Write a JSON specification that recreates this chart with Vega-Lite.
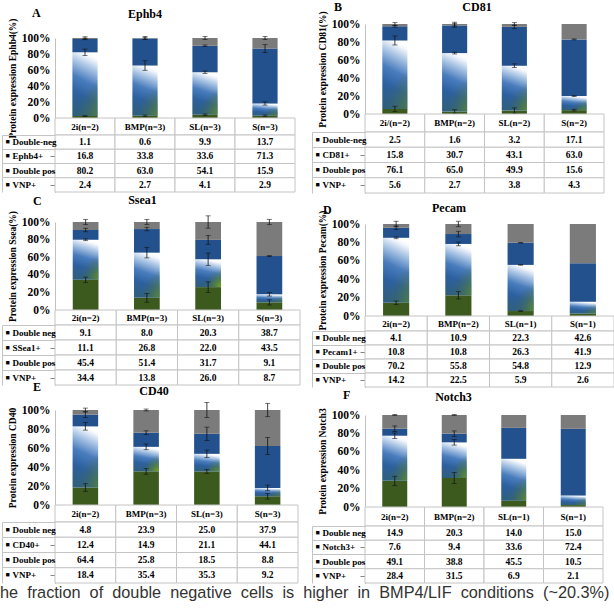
{
  "$schema": "https://vega.github.io/schema/vega-lite/v6.json",
  "padding": {"left": 0, "top": 0, "right": 0, "bottom": 0},
  "data": {"values": [
    {"p":"A","c":"2i(n=2)","k":"Double-neg","o":4,"v":1.1,"e":0.015},
    {"p":"A","c":"2i(n=2)","k":"Ephb4+","o":3,"v":16.8,"e":0.01},
    {"p":"A","c":"2i(n=2)","k":"Double pos","o":2,"v":80.2,"e":0.04},
    {"p":"A","c":"2i(n=2)","k":"VNP+","o":1,"v":2.4,"e":0.005},
    {"p":"A","c":"BMP(n=3)","k":"Double-neg","o":4,"v":0.6,"e":0.02},
    {"p":"A","c":"BMP(n=3)","k":"Ephb4+","o":3,"v":33.8,"e":0.01},
    {"p":"A","c":"BMP(n=3)","k":"Double pos","o":2,"v":63.0,"e":0.06},
    {"p":"A","c":"BMP(n=3)","k":"VNP+","o":1,"v":2.7,"e":0.01},
    {"p":"A","c":"SL(n=3)","k":"Double-neg","o":4,"v":9.9,"e":0.02},
    {"p":"A","c":"SL(n=3)","k":"Ephb4+","o":3,"v":33.6,"e":0.01},
    {"p":"A","c":"SL(n=3)","k":"Double pos","o":2,"v":54.1,"e":0.015},
    {"p":"A","c":"SL(n=3)","k":"VNP+","o":1,"v":4.1,"e":0.01},
    {"p":"A","c":"S(n=3)","k":"Double-neg","o":4,"v":13.7,"e":0.02},
    {"p":"A","c":"S(n=3)","k":"Ephb4+","o":3,"v":71.3,"e":0.05},
    {"p":"A","c":"S(n=3)","k":"Double pos","o":2,"v":15.9,"e":0.02},
    {"p":"A","c":"S(n=3)","k":"VNP+","o":1,"v":2.9,"e":0.01},

    {"p":"B","c":"2i/(n=2)","k":"Double-neg","o":4,"v":2.5,"e":0.015},
    {"p":"B","c":"2i/(n=2)","k":"CD81+","o":3,"v":15.8,"e":0.01},
    {"p":"B","c":"2i/(n=2)","k":"Double pos","o":2,"v":76.1,"e":0.05},
    {"p":"B","c":"2i/(n=2)","k":"VNP+","o":1,"v":5.6,"e":0.03},
    {"p":"B","c":"BMP(n=2)","k":"Double-neg","o":4,"v":1.6,"e":0.02},
    {"p":"B","c":"BMP(n=2)","k":"CD81+","o":3,"v":30.7,"e":0.02},
    {"p":"B","c":"BMP(n=2)","k":"Double pos","o":2,"v":65.0,"e":0.01},
    {"p":"B","c":"BMP(n=2)","k":"VNP+","o":1,"v":2.7,"e":0.02},
    {"p":"B","c":"SL(n=2)","k":"Double-neg","o":4,"v":3.2,"e":0.015},
    {"p":"B","c":"SL(n=2)","k":"CD81+","o":3,"v":43.1,"e":0.02},
    {"p":"B","c":"SL(n=2)","k":"Double pos","o":2,"v":49.9,"e":0.02},
    {"p":"B","c":"SL(n=2)","k":"VNP+","o":1,"v":3.8,"e":0.03},
    {"p":"B","c":"S(n=2)","k":"Double-neg","o":4,"v":17.1,"e":0},
    {"p":"B","c":"S(n=2)","k":"CD81+","o":3,"v":63.0,"e":0.005},
    {"p":"B","c":"S(n=2)","k":"Double pos","o":2,"v":15.6,"e":0.005},
    {"p":"B","c":"S(n=2)","k":"VNP+","o":1,"v":4.3,"e":0.01},

    {"p":"C","c":"2i(n=2)","k":"Double neg","o":4,"v":9.1,"e":0.03},
    {"p":"C","c":"2i(n=2)","k":"SSea1+","o":3,"v":11.1,"e":0.02},
    {"p":"C","c":"2i(n=2)","k":"Double pos","o":2,"v":45.4,"e":0.01},
    {"p":"C","c":"2i(n=2)","k":"VNP+","o":1,"v":34.4,"e":0.03},
    {"p":"C","c":"BMP(n=3)","k":"Double neg","o":4,"v":8.0,"e":0.03},
    {"p":"C","c":"BMP(n=3)","k":"SSea1+","o":3,"v":26.8,"e":0.02},
    {"p":"C","c":"BMP(n=3)","k":"Double pos","o":2,"v":51.4,"e":0.06},
    {"p":"C","c":"BMP(n=3)","k":"VNP+","o":1,"v":13.8,"e":0.05},
    {"p":"C","c":"SL(n=3)","k":"Double neg","o":4,"v":20.3,"e":0.07},
    {"p":"C","c":"SL(n=3)","k":"SSea1+","o":3,"v":22.0,"e":0.05},
    {"p":"C","c":"SL(n=3)","k":"Double pos","o":2,"v":31.7,"e":0.07},
    {"p":"C","c":"SL(n=3)","k":"VNP+","o":1,"v":26.0,"e":0.06},
    {"p":"C","c":"S(n=3)","k":"Double neg","o":4,"v":38.7,"e":0.03},
    {"p":"C","c":"S(n=3)","k":"SSea1+","o":3,"v":43.5,"e":0.005},
    {"p":"C","c":"S(n=3)","k":"Double pos","o":2,"v":9.1,"e":0.02},
    {"p":"C","c":"S(n=3)","k":"VNP+","o":1,"v":8.7,"e":0.03},

    {"p":"D","c":"2i(n=2)","k":"Double neg","o":4,"v":4.1,"e":0.03},
    {"p":"D","c":"2i(n=2)","k":"Pecam1+","o":3,"v":10.8,"e":0.02},
    {"p":"D","c":"2i(n=2)","k":"Double pos","o":2,"v":70.2,"e":0.01},
    {"p":"D","c":"2i(n=2)","k":"VNP+","o":1,"v":14.2,"e":0.02},
    {"p":"D","c":"BMP(n=2)","k":"Double neg","o":4,"v":10.9,"e":0.03},
    {"p":"D","c":"BMP(n=2)","k":"Pecam1+","o":3,"v":10.8,"e":0.03},
    {"p":"D","c":"BMP(n=2)","k":"Double pos","o":2,"v":55.8,"e":0.02},
    {"p":"D","c":"BMP(n=2)","k":"VNP+","o":1,"v":22.5,"e":0.04},
    {"p":"D","c":"SL(n=1)","k":"Double neg","o":4,"v":22.3,"e":0},
    {"p":"D","c":"SL(n=1)","k":"Pecam1+","o":3,"v":26.3,"e":0.003},
    {"p":"D","c":"SL(n=1)","k":"Double pos","o":2,"v":54.8,"e":0.003},
    {"p":"D","c":"SL(n=1)","k":"VNP+","o":1,"v":5.9,"e":0.003},
    {"p":"D","c":"S(n=1)","k":"Double neg","o":4,"v":42.6,"e":0},
    {"p":"D","c":"S(n=1)","k":"Pecam1+","o":3,"v":41.9,"e":0},
    {"p":"D","c":"S(n=1)","k":"Double pos","o":2,"v":12.9,"e":0},
    {"p":"D","c":"S(n=1)","k":"VNP+","o":1,"v":2.6,"e":0},

    {"p":"E","c":"2i(n=2)","k":"Double neg","o":4,"v":4.8,"e":0.02},
    {"p":"E","c":"2i(n=2)","k":"CD40+","o":3,"v":12.4,"e":0.03},
    {"p":"E","c":"2i(n=2)","k":"Double pos","o":2,"v":64.4,"e":0.04},
    {"p":"E","c":"2i(n=2)","k":"VNP+","o":1,"v":18.4,"e":0.04},
    {"p":"E","c":"BMP(n=3)","k":"Double neg","o":4,"v":23.9,"e":0.01},
    {"p":"E","c":"BMP(n=3)","k":"CD40+","o":3,"v":14.9,"e":0.02},
    {"p":"E","c":"BMP(n=3)","k":"Double pos","o":2,"v":25.8,"e":0.03},
    {"p":"E","c":"BMP(n=3)","k":"VNP+","o":1,"v":35.4,"e":0.03},
    {"p":"E","c":"SL(n=3)","k":"Double neg","o":4,"v":25.0,"e":0.08},
    {"p":"E","c":"SL(n=3)","k":"CD40+","o":3,"v":21.1,"e":0.07},
    {"p":"E","c":"SL(n=3)","k":"Double pos","o":2,"v":18.5,"e":0.04},
    {"p":"E","c":"SL(n=3)","k":"VNP+","o":1,"v":35.3,"e":0.02},
    {"p":"E","c":"S(n=3)","k":"Double neg","o":4,"v":37.9,"e":0.07},
    {"p":"E","c":"S(n=3)","k":"CD40+","o":3,"v":44.1,"e":0.09},
    {"p":"E","c":"S(n=3)","k":"Double pos","o":2,"v":8.8,"e":0.03},
    {"p":"E","c":"S(n=3)","k":"VNP+","o":1,"v":9.2,"e":0.03},

    {"p":"F","c":"2i(n=2)","k":"Double neg","o":4,"v":14.9,"e":0.005},
    {"p":"F","c":"2i(n=2)","k":"Notch3+","o":3,"v":7.6,"e":0.03},
    {"p":"F","c":"2i(n=2)","k":"Double pos","o":2,"v":49.1,"e":0.03},
    {"p":"F","c":"2i(n=2)","k":"VNP+","o":1,"v":28.4,"e":0.05},
    {"p":"F","c":"BMP(n=2)","k":"Double neg","o":4,"v":20.3,"e":0.005},
    {"p":"F","c":"BMP(n=2)","k":"Notch3+","o":3,"v":9.4,"e":0.03},
    {"p":"F","c":"BMP(n=2)","k":"Double pos","o":2,"v":38.8,"e":0.03},
    {"p":"F","c":"BMP(n=2)","k":"VNP+","o":1,"v":31.5,"e":0.06},
    {"p":"F","c":"SL(n=1)","k":"Double neg","o":4,"v":14.0,"e":0},
    {"p":"F","c":"SL(n=1)","k":"Notch3+","o":3,"v":33.6,"e":0},
    {"p":"F","c":"SL(n=1)","k":"Double pos","o":2,"v":45.5,"e":0},
    {"p":"F","c":"SL(n=1)","k":"VNP+","o":1,"v":6.9,"e":0},
    {"p":"F","c":"S(n=1)","k":"Double neg","o":4,"v":15.0,"e":0},
    {"p":"F","c":"S(n=1)","k":"Notch3+","o":3,"v":72.4,"e":0},
    {"p":"F","c":"S(n=1)","k":"Double pos","o":2,"v":10.5,"e":0},
    {"p":"F","c":"S(n=1)","k":"VNP+","o":1,"v":2.1,"e":0}
  ]},
  "title": {
    "text": "he \u00a0fraction \u00a0of \u00a0double \u00a0negative \u00a0cells \u00a0is \u00a0higher \u00a0in \u00a0BMP4/LIF \u00a0conditions \u00a0(~20.3%)",
    "orient": "bottom", "anchor": "start", "dx": -55, "offset": 14.5,
    "font": "Liberation Sans", "fontWeight": "normal", "fontSize": 16.3, "color": "#333333", "baseline": "alphabetic"
  },
  "spacing": 10,
  "hconcat": [
    {
      "spacing": 0,
      "vconcat": [
        {
          "spacing": 0, "bounds": "flush",
          "vconcat": [
            {
              "width": 240, "height": 94,
              "transform": [
                {"filter": "datum.p == 'A'"},
                {"stack": "v", "groupby": ["c"], "sort": [{"field": "o", "order": "ascending"}], "offset": "normalize", "as": ["y0", "y1"]}
              ],
              "encoding": {
                "x": {"field": "c", "type": "nominal", "sort": null, "axis": null, "scale": {"paddingInner": 0.58, "paddingOuter": 0.29}},
                "y": {"field": "y1", "type": "quantitative", "scale": {"domain": [0, 1], "nice": false, "range": [94, 14]},
                      "axis": {"title": "Protein expression Ephb4(%)", "format": ".0%", "values": [0, 0.2, 0.4, 0.6, 0.8, 1]}}
              },
              "layer": [
                {"transform": [{"filter": "datum.o == 1"}], "mark": {"type": "bar", "color": "#3d5a1e"}, "encoding": {"y2": {"field": "y0"}}},
                {"transform": [{"filter": "datum.o == 2"}], "mark": {"type": "bar", "color": {"gradient": "linear", "x1": 0.6, "y1": 0, "x2": 0.4, "y2": 1, "stops": [{"offset": 0, "color": "#ffffff"}, {"offset": 0.06, "color": "#f4f7fb"}, {"offset": 0.22, "color": "#a9c4e4"}, {"offset": 0.45, "color": "#4a7dbd"}, {"offset": 0.7, "color": "#2d609f"}, {"offset": 1, "color": "#2f5f80"}]}}, "encoding": {"y2": {"field": "y0"}}},
                {"transform": [{"filter": "datum.o == 2"}], "mark": {"type": "bar", "color": {"gradient": "radial", "x1": 1, "y1": 1, "r1": 0, "x2": 1, "y2": 1, "r2": 0.65, "stops": [{"offset": 0, "color": "rgba(125,170,25,1)"}, {"offset": 0.45, "color": "rgba(90,135,45,0.7)"}, {"offset": 1, "color": "rgba(60,100,80,0)"}]}}, "encoding": {"y2": {"field": "y0"}}},
                {"transform": [{"filter": "datum.o == 3"}], "mark": {"type": "bar", "color": "#23518e"}, "encoding": {"y2": {"field": "y0"}}},
                {"transform": [{"filter": "datum.o == 4"}], "mark": {"type": "bar", "color": "#7b7b7b"}, "encoding": {"y2": {"field": "y0"}}},
                {"transform": [{"filter": "datum.e > 0"}], "mark": {"type": "errorbar", "ticks": true, "size": 5, "thickness": 0.8, "color": "#111111"}, "encoding": {"yError": {"field": "e"}}}
              ]
            },
            {
              "width": 240, "height": 17,
              "title": {"text": "A", "anchor": "start", "dx": -23, "offset": 97.3},
              "transform": [{"filter": "datum.p == 'A' && datum.o == 1"}],
              "encoding": {"x": {"field": "c", "type": "nominal", "sort": null, "axis": null, "scale": {"paddingInner": 0, "paddingOuter": 0}}},
              "layer": [
                {"mark": {"type": "rect", "fill": "#ffffff", "stroke": "#c4c4c4", "strokeWidth": 1}, "encoding": {}},
                {"mark": {"type": "text", "fontSize": 9}, "encoding": {"text": {"field": "c"}}}
              ]
            },
            {
              "width": 240, "height": 57,
              "title": {"text": "Ephb4", "anchor": "middle", "dx": -30, "offset": 113.3},
              "transform": [{"filter": "datum.p == 'A'"}],
              "encoding": {"x": {"field": "c", "type": "nominal", "sort": null, "axis": null, "scale": {"paddingInner": 0, "paddingOuter": 0}}},
              "layer": [
                {"mark": {"type": "rect", "fill": "#ffffff", "stroke": "#c4c4c4", "strokeWidth": 1},
                 "encoding": {"y": {"field": "k", "type": "nominal", "title": null, "sort": {"field": "o", "op": "max", "order": "descending"}, "scale": {"paddingInner": 0, "paddingOuter": 0},
                   "axis": {"orient": "left", "bandPosition": 0, "labelPadding": -10}}}},
                {"mark": {"type": "text"},
                 "encoding": {"y": {"field": "k", "type": "nominal", "title": null, "sort": {"field": "o", "op": "max", "order": "descending"}, "scale": {"paddingInner": 0, "paddingOuter": 0},
                   "axis": {"orient": "left", "bandPosition": 1, "labels": false}},
                   "text": {"field": "v", "format": ".1f"}}},
                {"mark": {"type": "rect", "opacity": 0},
                 "encoding": {"y": {"field": "k", "type": "nominal", "title": null, "sort": {"field": "o", "op": "max", "order": "descending"}, "scale": {"paddingInner": 0, "paddingOuter": 0},
                   "axis": {"orient": "left", "offset": 53, "domain": true, "tickSize": 0, "labelPadding": -3, "labelExpr": "'■'", "labelFontSize": 7,
                     "encode": {"labels": {"update": {"fill": {"signal": "indexof(datum.value,'VNP') >= 0 ? '#4f6228' : indexof(datum.value,'Double pos') >= 0 ? '#6c9fd4' : indexof(datum.value,'Double') >= 0 ? '#8c8c8c' : '#2b569a'"}}}}}}}}
              ],
              "resolve": {"scale": {"y": "independent"}, "axis": {"y": "independent"}}
            }
          ]
        },
        {
          "spacing": -5,
          "vconcat": [
            {
              "spacing": 0, "bounds": "flush",
              "vconcat": [
                {
                  "width": 245, "height": 88,
                  "transform": [
                    {"filter": "datum.p == 'C'"},
                    {"stack": "v", "groupby": ["c"], "sort": [{"field": "o", "order": "ascending"}], "offset": "normalize", "as": ["y0", "y1"]}
                  ],
                  "encoding": {
                    "x": {"field": "c", "type": "nominal", "sort": null, "axis": null, "scale": {"paddingInner": 0.58, "paddingOuter": 0.29}},
                    "y": {"field": "y1", "type": "quantitative", "scale": {"domain": [0, 1], "nice": false},
                          "axis": {"title": "Protein expression Ssea(%)", "format": ".0%", "values": [0, 0.2, 0.4, 0.6, 0.8, 1]}}
                  },
                  "layer": [
                    {"transform": [{"filter": "datum.o == 1"}], "mark": {"type": "bar", "color": "#3d5a1e"}, "encoding": {"y2": {"field": "y0"}}},
                    {"transform": [{"filter": "datum.o == 2"}], "mark": {"type": "bar", "color": {"gradient": "linear", "x1": 0.6, "y1": 0, "x2": 0.4, "y2": 1, "stops": [{"offset": 0, "color": "#ffffff"}, {"offset": 0.06, "color": "#f4f7fb"}, {"offset": 0.22, "color": "#a9c4e4"}, {"offset": 0.45, "color": "#4a7dbd"}, {"offset": 0.7, "color": "#2d609f"}, {"offset": 1, "color": "#2f5f80"}]}}, "encoding": {"y2": {"field": "y0"}}},
                    {"transform": [{"filter": "datum.o == 2"}], "mark": {"type": "bar", "color": {"gradient": "radial", "x1": 1, "y1": 1, "r1": 0, "x2": 1, "y2": 1, "r2": 0.65, "stops": [{"offset": 0, "color": "rgba(125,170,25,1)"}, {"offset": 0.45, "color": "rgba(90,135,45,0.7)"}, {"offset": 1, "color": "rgba(60,100,80,0)"}]}}, "encoding": {"y2": {"field": "y0"}}},
                    {"transform": [{"filter": "datum.o == 3"}], "mark": {"type": "bar", "color": "#23518e"}, "encoding": {"y2": {"field": "y0"}}},
                    {"transform": [{"filter": "datum.o == 4"}], "mark": {"type": "bar", "color": "#7b7b7b"}, "encoding": {"y2": {"field": "y0"}}},
                    {"transform": [{"filter": "datum.e > 0"}], "mark": {"type": "errorbar", "ticks": true, "size": 5, "thickness": 0.8, "color": "#111111"}, "encoding": {"yError": {"field": "e"}}}
                  ]
                },
                {
                  "width": 245, "height": 15,
                  "title": {"text": "C", "anchor": "start", "dx": -22, "offset": 101.3},
                  "transform": [{"filter": "datum.p == 'C' && datum.o == 1"}],
                  "encoding": {"x": {"field": "c", "type": "nominal", "sort": null, "axis": null, "scale": {"paddingInner": 0, "paddingOuter": 0}}},
                  "layer": [
                    {"mark": {"type": "rect", "fill": "#ffffff", "stroke": "#c4c4c4", "strokeWidth": 1}, "encoding": {}},
                    {"mark": {"type": "text", "fontSize": 9}, "encoding": {"text": {"field": "c"}}}
                  ]
                },
                {
                  "width": 245, "height": 60,
                  "title": {"text": "Ssea1", "anchor": "middle", "dx": -35, "offset": 118},
                  "transform": [{"filter": "datum.p == 'C'"}],
                  "encoding": {"x": {"field": "c", "type": "nominal", "sort": null, "axis": null, "scale": {"paddingInner": 0, "paddingOuter": 0}}},
                  "layer": [
                    {"mark": {"type": "rect", "fill": "#ffffff", "stroke": "#c4c4c4", "strokeWidth": 1},
                     "encoding": {"y": {"field": "k", "type": "nominal", "title": null, "sort": {"field": "o", "op": "max", "order": "descending"}, "scale": {"paddingInner": 0, "paddingOuter": 0},
                       "axis": {"orient": "left", "bandPosition": 0, "labelPadding": -10}}}},
                    {"mark": {"type": "text"},
                     "encoding": {"y": {"field": "k", "type": "nominal", "title": null, "sort": {"field": "o", "op": "max", "order": "descending"}, "scale": {"paddingInner": 0, "paddingOuter": 0},
                       "axis": {"orient": "left", "bandPosition": 1, "labels": false}},
                       "text": {"field": "v", "format": ".1f"}}},
                    {"mark": {"type": "rect", "opacity": 0},
                     "encoding": {"y": {"field": "k", "type": "nominal", "title": null, "sort": {"field": "o", "op": "max", "order": "descending"}, "scale": {"paddingInner": 0, "paddingOuter": 0},
                       "axis": {"orient": "left", "offset": 53, "domain": true, "tickSize": 0, "labelPadding": -3, "labelExpr": "'■'", "labelFontSize": 7,
                         "encode": {"labels": {"update": {"fill": {"signal": "indexof(datum.value,'VNP') >= 0 ? '#4f6228' : indexof(datum.value,'Double pos') >= 0 ? '#6c9fd4' : indexof(datum.value,'Double') >= 0 ? '#8c8c8c' : '#2b569a'"}}}}}}}}
                  ],
                  "resolve": {"scale": {"y": "independent"}, "axis": {"y": "independent"}}
                }
              ]
            },
            {
              "spacing": 0, "bounds": "flush",
              "vconcat": [
                {
                  "width": 243, "height": 95,
                  "transform": [
                    {"filter": "datum.p == 'E'"},
                    {"stack": "v", "groupby": ["c"], "sort": [{"field": "o", "order": "ascending"}], "offset": "normalize", "as": ["y0", "y1"]}
                  ],
                  "encoding": {
                    "x": {"field": "c", "type": "nominal", "sort": null, "axis": null, "scale": {"paddingInner": 0.58, "paddingOuter": 0.29}},
                    "y": {"field": "y1", "type": "quantitative", "scale": {"domain": [0, 1], "nice": false},
                          "axis": {"title": "Protein expression CD40", "format": ".0%", "values": [0, 0.2, 0.4, 0.6, 0.8, 1]}}
                  },
                  "layer": [
                    {"transform": [{"filter": "datum.o == 1"}], "mark": {"type": "bar", "color": "#3d5a1e"}, "encoding": {"y2": {"field": "y0"}}},
                    {"transform": [{"filter": "datum.o == 2"}], "mark": {"type": "bar", "color": {"gradient": "linear", "x1": 0.6, "y1": 0, "x2": 0.4, "y2": 1, "stops": [{"offset": 0, "color": "#ffffff"}, {"offset": 0.06, "color": "#f4f7fb"}, {"offset": 0.22, "color": "#a9c4e4"}, {"offset": 0.45, "color": "#4a7dbd"}, {"offset": 0.7, "color": "#2d609f"}, {"offset": 1, "color": "#2f5f80"}]}}, "encoding": {"y2": {"field": "y0"}}},
                    {"transform": [{"filter": "datum.o == 2"}], "mark": {"type": "bar", "color": {"gradient": "radial", "x1": 1, "y1": 1, "r1": 0, "x2": 1, "y2": 1, "r2": 0.65, "stops": [{"offset": 0, "color": "rgba(125,170,25,1)"}, {"offset": 0.45, "color": "rgba(90,135,45,0.7)"}, {"offset": 1, "color": "rgba(60,100,80,0)"}]}}, "encoding": {"y2": {"field": "y0"}}},
                    {"transform": [{"filter": "datum.o == 3"}], "mark": {"type": "bar", "color": "#23518e"}, "encoding": {"y2": {"field": "y0"}}},
                    {"transform": [{"filter": "datum.o == 4"}], "mark": {"type": "bar", "color": "#7b7b7b"}, "encoding": {"y2": {"field": "y0"}}},
                    {"transform": [{"filter": "datum.e > 0"}], "mark": {"type": "errorbar", "ticks": true, "size": 5, "thickness": 0.8, "color": "#111111"}, "encoding": {"yError": {"field": "e"}}}
                  ]
                },
                {
                  "width": 243, "height": 17,
                  "title": {"text": "E", "anchor": "start", "dx": -22, "offset": 110.3},
                  "transform": [{"filter": "datum.p == 'E' && datum.o == 1"}],
                  "encoding": {"x": {"field": "c", "type": "nominal", "sort": null, "axis": null, "scale": {"paddingInner": 0, "paddingOuter": 0}}},
                  "layer": [
                    {"mark": {"type": "rect", "fill": "#ffffff", "stroke": "#c4c4c4", "strokeWidth": 1}, "encoding": {}},
                    {"mark": {"type": "text", "fontSize": 9}, "encoding": {"text": {"field": "c"}}}
                  ]
                },
                {
                  "width": 243, "height": 61,
                  "title": {"text": "CD40", "anchor": "middle", "dx": -22.5, "offset": 123.3},
                  "transform": [{"filter": "datum.p == 'E'"}],
                  "encoding": {"x": {"field": "c", "type": "nominal", "sort": null, "axis": null, "scale": {"paddingInner": 0, "paddingOuter": 0}}},
                  "layer": [
                    {"mark": {"type": "rect", "fill": "#ffffff", "stroke": "#c4c4c4", "strokeWidth": 1},
                     "encoding": {"y": {"field": "k", "type": "nominal", "title": null, "sort": {"field": "o", "op": "max", "order": "descending"}, "scale": {"paddingInner": 0, "paddingOuter": 0},
                       "axis": {"orient": "left", "bandPosition": 0, "labelPadding": -10}}}},
                    {"mark": {"type": "text"},
                     "encoding": {"y": {"field": "k", "type": "nominal", "title": null, "sort": {"field": "o", "op": "max", "order": "descending"}, "scale": {"paddingInner": 0, "paddingOuter": 0},
                       "axis": {"orient": "left", "bandPosition": 1, "labels": false}},
                       "text": {"field": "v", "format": ".1f"}}},
                    {"mark": {"type": "rect", "opacity": 0},
                     "encoding": {"y": {"field": "k", "type": "nominal", "title": null, "sort": {"field": "o", "op": "max", "order": "descending"}, "scale": {"paddingInner": 0, "paddingOuter": 0},
                       "axis": {"orient": "left", "offset": 53, "domain": true, "tickSize": 0, "labelPadding": -3, "labelExpr": "'■'", "labelFontSize": 7,
                         "encode": {"labels": {"update": {"fill": {"signal": "indexof(datum.value,'VNP') >= 0 ? '#4f6228' : indexof(datum.value,'Double pos') >= 0 ? '#6c9fd4' : indexof(datum.value,'Double') >= 0 ? '#8c8c8c' : '#2b569a'"}}}}}}}}
                  ],
                  "resolve": {"scale": {"y": "independent"}, "axis": {"y": "independent"}}
                }
              ]
            }
          ]
        }
      ]
    },
    {
      "spacing": 7,
      "vconcat": [
        {
          "spacing": 0, "bounds": "flush",
          "vconcat": [
            {
              "width": 239, "height": 90,
              "transform": [
                {"filter": "datum.p == 'B'"},
                {"stack": "v", "groupby": ["c"], "sort": [{"field": "o", "order": "ascending"}], "offset": "normalize", "as": ["y0", "y1"]}
              ],
              "encoding": {
                "x": {"field": "c", "type": "nominal", "sort": null, "axis": null, "scale": {"paddingInner": 0.58, "paddingOuter": 0.29}},
                "y": {"field": "y1", "type": "quantitative", "scale": {"domain": [0, 1], "nice": false},
                      "axis": {"title": "Protein expression CD81(%)", "format": ".0%", "values": [0, 0.2, 0.4, 0.6, 0.8, 1]}}
              },
              "layer": [
                {"transform": [{"filter": "datum.o == 1"}], "mark": {"type": "bar", "color": "#3d5a1e"}, "encoding": {"y2": {"field": "y0"}}},
                {"transform": [{"filter": "datum.o == 2"}], "mark": {"type": "bar", "color": {"gradient": "linear", "x1": 0.6, "y1": 0, "x2": 0.4, "y2": 1, "stops": [{"offset": 0, "color": "#ffffff"}, {"offset": 0.06, "color": "#f4f7fb"}, {"offset": 0.22, "color": "#a9c4e4"}, {"offset": 0.45, "color": "#4a7dbd"}, {"offset": 0.7, "color": "#2d609f"}, {"offset": 1, "color": "#2f5f80"}]}}, "encoding": {"y2": {"field": "y0"}}},
                {"transform": [{"filter": "datum.o == 2"}], "mark": {"type": "bar", "color": {"gradient": "radial", "x1": 1, "y1": 1, "r1": 0, "x2": 1, "y2": 1, "r2": 0.65, "stops": [{"offset": 0, "color": "rgba(125,170,25,1)"}, {"offset": 0.45, "color": "rgba(90,135,45,0.7)"}, {"offset": 1, "color": "rgba(60,100,80,0)"}]}}, "encoding": {"y2": {"field": "y0"}}},
                {"transform": [{"filter": "datum.o == 3"}], "mark": {"type": "bar", "color": "#23518e"}, "encoding": {"y2": {"field": "y0"}}},
                {"transform": [{"filter": "datum.o == 4"}], "mark": {"type": "bar", "color": "#7b7b7b"}, "encoding": {"y2": {"field": "y0"}}},
                {"transform": [{"filter": "datum.e > 0"}], "mark": {"type": "errorbar", "ticks": true, "size": 5, "thickness": 0.8, "color": "#111111"}, "encoding": {"yError": {"field": "e"}}}
              ]
            },
            {
              "width": 239, "height": 18,
              "title": {"text": "B", "anchor": "start", "dx": -31, "offset": 99.3},
              "transform": [{"filter": "datum.p == 'B' && datum.o == 1"}],
              "encoding": {"x": {"field": "c", "type": "nominal", "sort": null, "axis": null, "scale": {"paddingInner": 0, "paddingOuter": 0}}},
              "layer": [
                {"mark": {"type": "rect", "fill": "#ffffff", "stroke": "#c4c4c4", "strokeWidth": 1}, "encoding": {}},
                {"mark": {"type": "text", "fontSize": 9}, "encoding": {"text": {"field": "c"}}}
              ]
            },
            {
              "width": 239, "height": 61,
              "title": {"text": "CD81", "anchor": "middle", "dx": -7.5, "offset": 117.6},
              "transform": [{"filter": "datum.p == 'B'"}],
              "encoding": {"x": {"field": "c", "type": "nominal", "sort": null, "axis": null, "scale": {"paddingInner": 0, "paddingOuter": 0}}},
              "layer": [
                {"mark": {"type": "rect", "fill": "#ffffff", "stroke": "#c4c4c4", "strokeWidth": 1},
                 "encoding": {"y": {"field": "k", "type": "nominal", "title": null, "sort": {"field": "o", "op": "max", "order": "descending"}, "scale": {"paddingInner": 0, "paddingOuter": 0},
                   "axis": {"orient": "left", "bandPosition": 0, "labelPadding": -10}}}},
                {"mark": {"type": "text"},
                 "encoding": {"y": {"field": "k", "type": "nominal", "title": null, "sort": {"field": "o", "op": "max", "order": "descending"}, "scale": {"paddingInner": 0, "paddingOuter": 0},
                   "axis": {"orient": "left", "bandPosition": 1, "labels": false}},
                   "text": {"field": "v", "format": ".1f"}}},
                {"mark": {"type": "rect", "opacity": 0},
                 "encoding": {"y": {"field": "k", "type": "nominal", "title": null, "sort": {"field": "o", "op": "max", "order": "descending"}, "scale": {"paddingInner": 0, "paddingOuter": 0},
                   "axis": {"orient": "left", "offset": 53, "domain": true, "tickSize": 0, "labelPadding": -3, "labelExpr": "'■'", "labelFontSize": 7,
                     "encode": {"labels": {"update": {"fill": {"signal": "indexof(datum.value,'VNP') >= 0 ? '#4f6228' : indexof(datum.value,'Double pos') >= 0 ? '#6c9fd4' : indexof(datum.value,'Double') >= 0 ? '#8c8c8c' : '#2b569a'"}}}}}}}}
              ],
              "resolve": {"scale": {"y": "independent"}, "axis": {"y": "independent"}}
            }
          ]
        },
        {
          "spacing": 1,
          "vconcat": [
            {
              "spacing": 0, "bounds": "flush",
              "vconcat": [
                {
                  "width": 249, "height": 92,
                  "transform": [
                    {"filter": "datum.p == 'D'"},
                    {"stack": "v", "groupby": ["c"], "sort": [{"field": "o", "order": "ascending"}], "offset": "normalize", "as": ["y0", "y1"]}
                  ],
                  "encoding": {
                    "x": {"field": "c", "type": "nominal", "sort": null, "axis": null, "scale": {"paddingInner": 0.58, "paddingOuter": 0.29}},
                    "y": {"field": "y1", "type": "quantitative", "scale": {"domain": [0, 1], "nice": false},
                          "axis": {"title": "Protein expression Pecam(%)", "format": ".0%", "values": [0, 0.2, 0.4, 0.6, 0.8, 1]}}
                  },
                  "layer": [
                    {"transform": [{"filter": "datum.o == 1"}], "mark": {"type": "bar", "color": "#3d5a1e"}, "encoding": {"y2": {"field": "y0"}}},
                    {"transform": [{"filter": "datum.o == 2"}], "mark": {"type": "bar", "color": {"gradient": "linear", "x1": 0.6, "y1": 0, "x2": 0.4, "y2": 1, "stops": [{"offset": 0, "color": "#ffffff"}, {"offset": 0.06, "color": "#f4f7fb"}, {"offset": 0.22, "color": "#a9c4e4"}, {"offset": 0.45, "color": "#4a7dbd"}, {"offset": 0.7, "color": "#2d609f"}, {"offset": 1, "color": "#2f5f80"}]}}, "encoding": {"y2": {"field": "y0"}}},
                    {"transform": [{"filter": "datum.o == 2"}], "mark": {"type": "bar", "color": {"gradient": "radial", "x1": 1, "y1": 1, "r1": 0, "x2": 1, "y2": 1, "r2": 0.65, "stops": [{"offset": 0, "color": "rgba(125,170,25,1)"}, {"offset": 0.45, "color": "rgba(90,135,45,0.7)"}, {"offset": 1, "color": "rgba(60,100,80,0)"}]}}, "encoding": {"y2": {"field": "y0"}}},
                    {"transform": [{"filter": "datum.o == 3"}], "mark": {"type": "bar", "color": "#23518e"}, "encoding": {"y2": {"field": "y0"}}},
                    {"transform": [{"filter": "datum.o == 4"}], "mark": {"type": "bar", "color": "#7b7b7b"}, "encoding": {"y2": {"field": "y0"}}},
                    {"transform": [{"filter": "datum.e > 0"}], "mark": {"type": "errorbar", "ticks": true, "size": 5, "thickness": 0.8, "color": "#111111"}, "encoding": {"yError": {"field": "e"}}}
                  ]
                },
                {
                  "width": 249, "height": 15,
                  "title": {"text": "D", "anchor": "start", "dx": -42, "offset": 98.3},
                  "transform": [{"filter": "datum.p == 'D' && datum.o == 1"}],
                  "encoding": {"x": {"field": "c", "type": "nominal", "sort": null, "axis": null, "scale": {"paddingInner": 0, "paddingOuter": 0}}},
                  "layer": [
                    {"mark": {"type": "rect", "fill": "#ffffff", "stroke": "#c4c4c4", "strokeWidth": 1}, "encoding": {}},
                    {"mark": {"type": "text", "fontSize": 9}, "encoding": {"text": {"field": "c"}}}
                  ]
                },
                {
                  "width": 249, "height": 56,
                  "title": {"text": "Pecam", "anchor": "middle", "dx": -40.5, "offset": 115.6},
                  "transform": [{"filter": "datum.p == 'D'"}],
                  "encoding": {"x": {"field": "c", "type": "nominal", "sort": null, "axis": null, "scale": {"paddingInner": 0, "paddingOuter": 0}}},
                  "layer": [
                    {"mark": {"type": "rect", "fill": "#ffffff", "stroke": "#c4c4c4", "strokeWidth": 1},
                     "encoding": {"y": {"field": "k", "type": "nominal", "title": null, "sort": {"field": "o", "op": "max", "order": "descending"}, "scale": {"paddingInner": 0, "paddingOuter": 0},
                       "axis": {"orient": "left", "bandPosition": 0, "labelPadding": -10}}}},
                    {"mark": {"type": "text"},
                     "encoding": {"y": {"field": "k", "type": "nominal", "title": null, "sort": {"field": "o", "op": "max", "order": "descending"}, "scale": {"paddingInner": 0, "paddingOuter": 0},
                       "axis": {"orient": "left", "bandPosition": 1, "labels": false}},
                       "text": {"field": "v", "format": ".1f"}}},
                    {"mark": {"type": "rect", "opacity": 0},
                     "encoding": {"y": {"field": "k", "type": "nominal", "title": null, "sort": {"field": "o", "op": "max", "order": "descending"}, "scale": {"paddingInner": 0, "paddingOuter": 0},
                       "axis": {"orient": "left", "offset": 53, "domain": true, "tickSize": 0, "labelPadding": -3, "labelExpr": "'■'", "labelFontSize": 7,
                         "encode": {"labels": {"update": {"fill": {"signal": "indexof(datum.value,'VNP') >= 0 ? '#4f6228' : indexof(datum.value,'Double pos') >= 0 ? '#6c9fd4' : indexof(datum.value,'Double') >= 0 ? '#8c8c8c' : '#2b569a'"}}}}}}}}
                  ],
                  "resolve": {"scale": {"y": "independent"}, "axis": {"y": "independent"}}
                }
              ]
            },
            {
              "spacing": 0, "bounds": "flush",
              "vconcat": [
                {
                  "width": 238, "height": 92,
                  "transform": [
                    {"filter": "datum.p == 'F'"},
                    {"stack": "v", "groupby": ["c"], "sort": [{"field": "o", "order": "ascending"}], "offset": "normalize", "as": ["y0", "y1"]}
                  ],
                  "encoding": {
                    "x": {"field": "c", "type": "nominal", "sort": null, "axis": null, "scale": {"paddingInner": 0.58, "paddingOuter": 0.29}},
                    "y": {"field": "y1", "type": "quantitative", "scale": {"domain": [0, 1], "nice": false},
                          "axis": {"title": "Protein expression Notch3", "format": ".0%", "values": [0, 0.2, 0.4, 0.6, 0.8, 1]}}
                  },
                  "layer": [
                    {"transform": [{"filter": "datum.o == 1"}], "mark": {"type": "bar", "color": "#3d5a1e"}, "encoding": {"y2": {"field": "y0"}}},
                    {"transform": [{"filter": "datum.o == 2"}], "mark": {"type": "bar", "color": {"gradient": "linear", "x1": 0.6, "y1": 0, "x2": 0.4, "y2": 1, "stops": [{"offset": 0, "color": "#ffffff"}, {"offset": 0.06, "color": "#f4f7fb"}, {"offset": 0.22, "color": "#a9c4e4"}, {"offset": 0.45, "color": "#4a7dbd"}, {"offset": 0.7, "color": "#2d609f"}, {"offset": 1, "color": "#2f5f80"}]}}, "encoding": {"y2": {"field": "y0"}}},
                    {"transform": [{"filter": "datum.o == 2"}], "mark": {"type": "bar", "color": {"gradient": "radial", "x1": 1, "y1": 1, "r1": 0, "x2": 1, "y2": 1, "r2": 0.65, "stops": [{"offset": 0, "color": "rgba(125,170,25,1)"}, {"offset": 0.45, "color": "rgba(90,135,45,0.7)"}, {"offset": 1, "color": "rgba(60,100,80,0)"}]}}, "encoding": {"y2": {"field": "y0"}}},
                    {"transform": [{"filter": "datum.o == 3"}], "mark": {"type": "bar", "color": "#23518e"}, "encoding": {"y2": {"field": "y0"}}},
                    {"transform": [{"filter": "datum.o == 4"}], "mark": {"type": "bar", "color": "#7b7b7b"}, "encoding": {"y2": {"field": "y0"}}},
                    {"transform": [{"filter": "datum.e > 0"}], "mark": {"type": "errorbar", "ticks": true, "size": 5, "thickness": 0.8, "color": "#111111"}, "encoding": {"yError": {"field": "e"}}}
                  ]
                },
                {
                  "width": 238, "height": 19,
                  "title": {"text": "F", "anchor": "start", "dx": -22, "offset": 104.3},
                  "transform": [{"filter": "datum.p == 'F' && datum.o == 1"}],
                  "encoding": {"x": {"field": "c", "type": "nominal", "sort": null, "axis": null, "scale": {"paddingInner": 0, "paddingOuter": 0}}},
                  "layer": [
                    {"mark": {"type": "rect", "fill": "#ffffff", "stroke": "#c4c4c4", "strokeWidth": 1}, "encoding": {}},
                    {"mark": {"type": "text", "fontSize": 9}, "encoding": {"text": {"field": "c"}}}
                  ]
                },
                {
                  "width": 238, "height": 57,
                  "title": {"text": "Notch3", "anchor": "middle", "dx": -30.5, "offset": 121.3},
                  "transform": [{"filter": "datum.p == 'F'"}],
                  "encoding": {"x": {"field": "c", "type": "nominal", "sort": null, "axis": null, "scale": {"paddingInner": 0, "paddingOuter": 0}}},
                  "layer": [
                    {"mark": {"type": "rect", "fill": "#ffffff", "stroke": "#c4c4c4", "strokeWidth": 1},
                     "encoding": {"y": {"field": "k", "type": "nominal", "title": null, "sort": {"field": "o", "op": "max", "order": "descending"}, "scale": {"paddingInner": 0, "paddingOuter": 0},
                       "axis": {"orient": "left", "bandPosition": 0, "labelPadding": -10}}}},
                    {"mark": {"type": "text"},
                     "encoding": {"y": {"field": "k", "type": "nominal", "title": null, "sort": {"field": "o", "op": "max", "order": "descending"}, "scale": {"paddingInner": 0, "paddingOuter": 0},
                       "axis": {"orient": "left", "bandPosition": 1, "labels": false}},
                       "text": {"field": "v", "format": ".1f"}}},
                    {"mark": {"type": "rect", "opacity": 0},
                     "encoding": {"y": {"field": "k", "type": "nominal", "title": null, "sort": {"field": "o", "op": "max", "order": "descending"}, "scale": {"paddingInner": 0, "paddingOuter": 0},
                       "axis": {"orient": "left", "offset": 53, "domain": true, "tickSize": 0, "labelPadding": -3, "labelExpr": "'■'", "labelFontSize": 7,
                         "encode": {"labels": {"update": {"fill": {"signal": "indexof(datum.value,'VNP') >= 0 ? '#4f6228' : indexof(datum.value,'Double pos') >= 0 ? '#6c9fd4' : indexof(datum.value,'Double') >= 0 ? '#8c8c8c' : '#2b569a'"}}}}}}}}
                  ],
                  "resolve": {"scale": {"y": "independent"}, "axis": {"y": "independent"}}
                }
              ]
            }
          ]
        }
      ]
    }
  ],
  "config": {
    "view": {"stroke": null},
    "axis": {"labelFont": "Liberation Serif", "labelFontWeight": "bold", "labelColor": "#000000", "titleFont": "Liberation Serif", "titleFontWeight": "bold", "titleColor": "#000000"},
    "axisQuantitative": {"grid": false, "ticks": false, "domainColor": "#c0c0c0", "labelFontSize": 11.5, "labelPadding": 5, "titleFontSize": 9.5, "titlePadding": 4},
    "axisBand": {"ticks": true, "tickSize": 53, "tickColor": "#c4c4c4", "domain": false, "domainColor": "#c4c4c4", "labelAlign": "left", "labelBaseline": "middle", "labelFontSize": 9, "grid": false},
    "title": {"font": "Liberation Serif", "fontWeight": "bold", "fontSize": 12, "color": "#000000", "baseline": "alphabetic", "frame": "group"},
    "text": {"font": "Liberation Serif", "fontWeight": "bold", "fontSize": 9.5, "color": "#000000"}
  }
}
